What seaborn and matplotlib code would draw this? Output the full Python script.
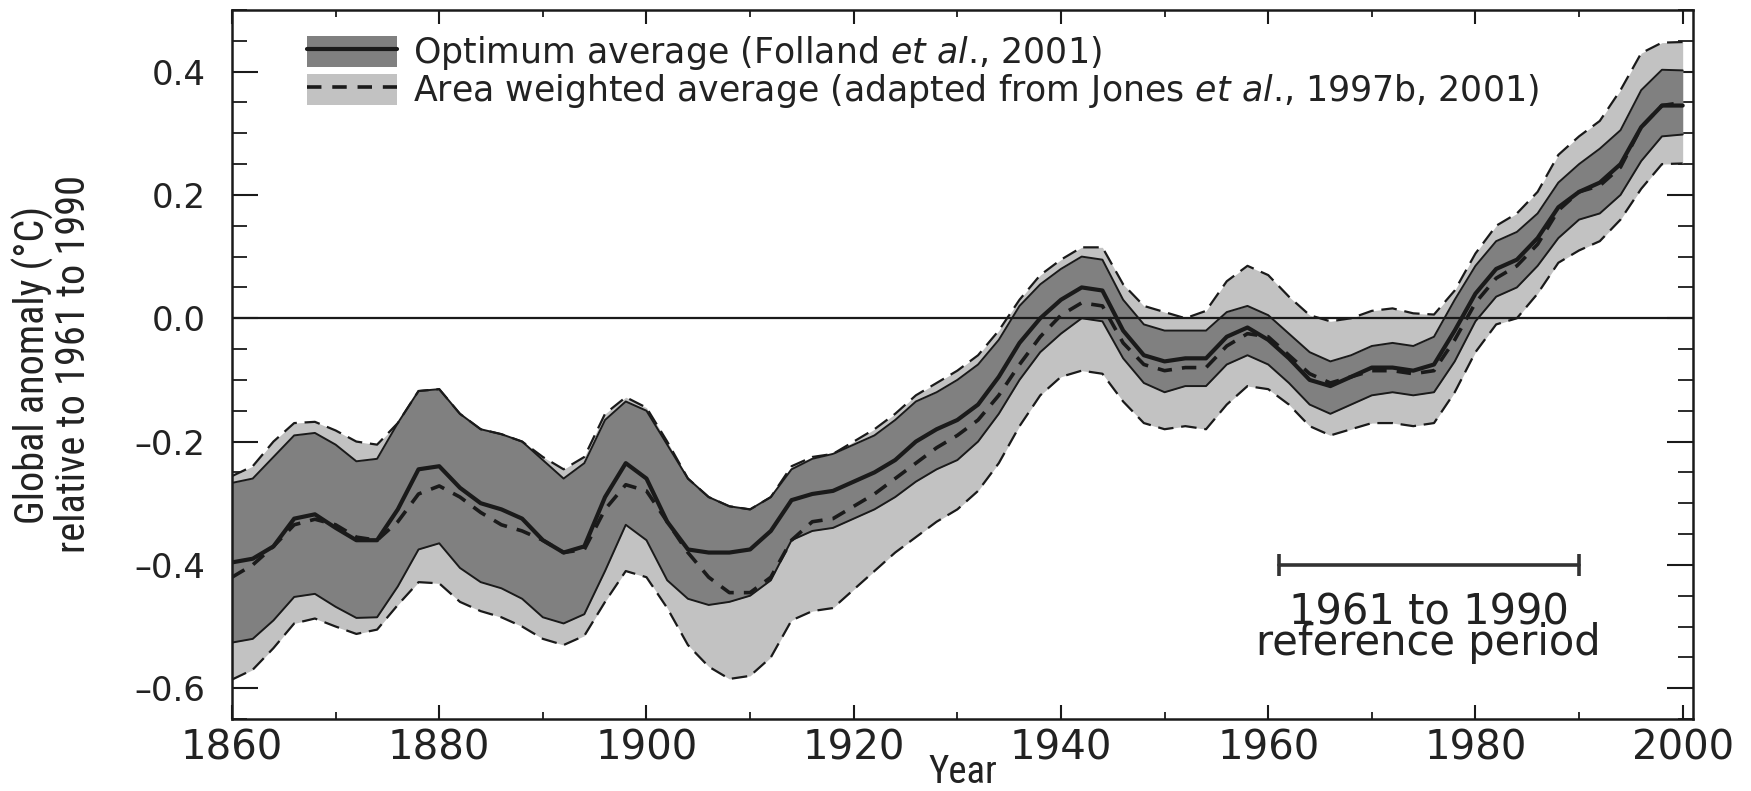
import numpy as np
import pandas as pd
import seaborn as sns
import matplotlib
matplotlib.use("Agg")
import matplotlib.pyplot as plt
from matplotlib import font_manager
from matplotlib.patches import Patch
from matplotlib.lines import Line2D
from matplotlib.ticker import MultipleLocator

# ---------------- data ----------------
years = list(range(1860, 2001, 2))

optimum_mean = [-0.396, -0.39, -0.37, -0.325, -0.318, -0.34, -0.36, -0.36, -0.31, -0.245,
                -0.24, -0.275, -0.30, -0.31, -0.325, -0.36, -0.38, -0.37, -0.29, -0.235,
                -0.26, -0.33, -0.375, -0.38, -0.38, -0.375, -0.345, -0.295, -0.285, -0.28,
                -0.265, -0.25, -0.23, -0.20, -0.18, -0.165, -0.14, -0.095, -0.04, 0.00,
                0.03, 0.05, 0.045, -0.02, -0.06, -0.07, -0.065, -0.065, -0.03, -0.015,
                -0.035, -0.065, -0.10, -0.11, -0.095, -0.08, -0.08, -0.085, -0.075, -0.02,
                0.04, 0.08, 0.095, 0.13, 0.18, 0.205, 0.22, 0.25, 0.31, 0.345, 0.345]

optimum_upper = [-0.267, -0.26, -0.225, -0.19, -0.186, -0.205, -0.232, -0.228, -0.17, -0.118,
                 -0.115, -0.155, -0.18, -0.188, -0.2, -0.23, -0.26, -0.235, -0.165, -0.135,
                 -0.15, -0.205, -0.26, -0.29, -0.305, -0.31, -0.29, -0.245, -0.228, -0.22,
                 -0.205, -0.19, -0.165, -0.135, -0.12, -0.10, -0.075, -0.035, 0.02, 0.055,
                 0.08, 0.10, 0.095, 0.03, -0.01, -0.02, -0.02, -0.02, 0.01, 0.02,
                 0.005, -0.025, -0.055, -0.07, -0.06, -0.045, -0.04, -0.045, -0.03, 0.03,
                 0.085, 0.125, 0.14, 0.17, 0.22, 0.25, 0.275, 0.305, 0.37, 0.403, 0.402]

optimum_lower = [-0.526, -0.52, -0.49, -0.452, -0.447, -0.468, -0.486, -0.485, -0.435, -0.375,
                 -0.365, -0.405, -0.428, -0.438, -0.455, -0.485, -0.495, -0.48, -0.41, -0.335,
                 -0.36, -0.425, -0.455, -0.465, -0.46, -0.45, -0.425, -0.36, -0.345, -0.34,
                 -0.325, -0.31, -0.29, -0.265, -0.245, -0.23, -0.2, -0.155, -0.1, -0.055,
                 -0.025, 0.0, -0.005, -0.065, -0.105, -0.12, -0.11, -0.11, -0.075, -0.06,
                 -0.075, -0.105, -0.14, -0.155, -0.14, -0.125, -0.12, -0.125, -0.12, -0.07,
                 -0.005, 0.035, 0.05, 0.085, 0.13, 0.16, 0.17, 0.2, 0.255, 0.295, 0.298]

area_mean = [-0.42, -0.40, -0.37, -0.335, -0.326, -0.335, -0.355, -0.36, -0.33, -0.285,
             -0.272, -0.29, -0.315, -0.335, -0.345, -0.36, -0.38, -0.375, -0.31, -0.27,
             -0.28, -0.33, -0.38, -0.42, -0.445, -0.445, -0.42, -0.36, -0.33, -0.325,
             -0.305, -0.285, -0.26, -0.235, -0.21, -0.19, -0.165, -0.125, -0.075, -0.03,
             0.005, 0.025, 0.02, -0.04, -0.075, -0.085, -0.08, -0.08, -0.045, -0.025,
             -0.03, -0.06, -0.09, -0.105, -0.095, -0.085, -0.085, -0.09, -0.085, -0.035,
             0.025, 0.065, 0.085, 0.12, 0.175, 0.205, 0.215, 0.245, 0.31, 0.345, 0.35]

area_upper = [-0.256, -0.24, -0.2, -0.17, -0.168, -0.182, -0.2, -0.205, -0.17, -0.118,
              -0.115, -0.155, -0.18, -0.188, -0.2, -0.225, -0.245, -0.225, -0.155, -0.128,
              -0.145, -0.2, -0.26, -0.29, -0.305, -0.31, -0.29, -0.24, -0.225, -0.22,
              -0.2, -0.18, -0.155, -0.125, -0.105, -0.085, -0.06, -0.02, 0.03, 0.07,
              0.095, 0.115, 0.115, 0.055, 0.02, 0.01, 0.0, 0.012, 0.06, 0.085,
              0.07, 0.035, 0.005, -0.005, 0.0, 0.012, 0.016, 0.008, 0.006, 0.045,
              0.105, 0.15, 0.17, 0.205, 0.265, 0.295, 0.32, 0.37, 0.43, 0.447, 0.448]

area_lower = [-0.586, -0.57, -0.535, -0.495, -0.487, -0.5, -0.512, -0.505, -0.465, -0.428,
              -0.43, -0.46, -0.475, -0.485, -0.5, -0.52, -0.53, -0.515, -0.46, -0.41,
              -0.42, -0.47, -0.53, -0.565, -0.585, -0.58, -0.55, -0.49, -0.475, -0.47,
              -0.44, -0.41, -0.38, -0.355, -0.33, -0.31, -0.28, -0.235, -0.175, -0.125,
              -0.095, -0.085, -0.09, -0.135, -0.17, -0.18, -0.175, -0.18, -0.14, -0.11,
              -0.115, -0.14, -0.175, -0.19, -0.18, -0.17, -0.17, -0.175, -0.17, -0.12,
              -0.055, -0.01, 0.0, 0.04, 0.09, 0.11, 0.125, 0.16, 0.21, 0.25, 0.251]

ref_period = [1961, 1990]
ref_level = -0.40
ref_text = "1961 to 1990\nreference period"

ytick_values = [-0.6, -0.4, -0.2, 0.0, 0.2, 0.4]
ytick_labels = ["\u20130.6", "\u20130.4", "\u20130.2", "0.0", "0.2", "0.4"]

legend_labels = [r"Optimum average (Folland $\it{et\ al}$., 2001)",
                 r"Area weighted average (adapted from Jones $\it{et\ al}$., 1997b, 2001)"]

# ---------------- style ----------------
sns.set_theme(style="ticks")
plt.rcParams["font.family"] = ["DejaVu Sans"]
plt.rcParams["mathtext.fontset"] = "custom"
plt.rcParams["mathtext.rm"] = "DejaVu Sans"
plt.rcParams["mathtext.it"] = "DejaVu Sans:italic"

def has_font(name):
    try:
        font_manager.findfont(name, fallback_to_default=False)
        return True
    except Exception:
        return False

narrow = ["Liberation Sans Narrow", "DejaVu Sans"] if has_font("Liberation Sans Narrow") \
    else ["Roboto Condensed", "Liberation Sans", "DejaVu Sans"]

DARK = "#808080"
LIGHT = "#c2c2c2"
INK = "#1a1a1a"
TXT = "#222222"

df = pd.DataFrame({"year": years, "opt": optimum_mean, "opt_hi": optimum_upper,
                   "opt_lo": optimum_lower, "area": area_mean, "area_hi": area_upper,
                   "area_lo": area_lower})

fig = plt.figure(figsize=(17.51, 7.91), dpi=100)
ax = fig.add_axes([0.1325, 0.0910, 0.8344, 0.8964])

# bands
ax.fill_between(df["year"], df["area_lo"], df["area_hi"], color=LIGHT, lw=0, zorder=1)
ax.fill_between(df["year"], df["opt_lo"], df["opt_hi"], color=DARK, lw=0, zorder=2)

for col in ["area_hi", "area_lo"]:
    sns.lineplot(data=df, x="year", y=col, ax=ax, color=INK, lw=1.6, zorder=3)
    ax.lines[-1].set_dashes((7, 3.5))
for col in ["opt_hi", "opt_lo"]:
    sns.lineplot(data=df, x="year", y=col, ax=ax, color=INK, lw=1.4, zorder=4)
sns.lineplot(data=df, x="year", y="area", ax=ax, color=INK, lw=2.6, zorder=5)
ax.lines[-1].set_dashes((4, 2.8))
sns.lineplot(data=df, x="year", y="opt", ax=ax, color=INK, lw=3.0, zorder=6)
for ln in ax.lines:
    ln.set_solid_joinstyle("round")
    ln.set_dash_joinstyle("round")

# zero line
ax.axhline(0.0, color=INK, lw=1.6, zorder=7)

# reference period bar
ax.plot(ref_period, [ref_level, ref_level], color="#333333", lw=2.6, zorder=8)
ax.plot(ref_period, [ref_level, ref_level], ls="none", marker="|", ms=16, mew=2.6,
        color="#333333", zorder=8)
xmid = (ref_period[0] + ref_period[1]) / 2
ax.text(xmid, -0.502, ref_text, ha="center", va="center", fontsize=30, color=TXT,
        linespacing=0.66, multialignment="center")

# axes
ax.set_xlim(1860, 2001)
ax.set_ylim(-0.65, 0.5)
ax.xaxis.set_major_locator(MultipleLocator(20))
ax.xaxis.set_minor_locator(MultipleLocator(10))
ax.yaxis.set_minor_locator(MultipleLocator(0.05))
ax.set_yticks(ytick_values)
ax.set_yticklabels(ytick_labels)
ax.tick_params(axis="both", which="both", direction="in", top=True, right=True,
               colors=INK, labelcolor=TXT)
ax.tick_params(axis="y", which="major", length=19, width=1.5, pad=19, labelsize=24.5)
ax.tick_params(axis="y", which="minor", length=10.5, width=1.3)
ax.tick_params(axis="x", which="major", length=10, width=1.5, pad=7, labelsize=29)
ax.tick_params(axis="x", which="minor", length=5, width=1.3)
for s in ax.spines.values():
    s.set_color(INK)
    s.set_linewidth(1.8)

ax.set_xlabel("Year", fontsize=28, family=narrow, color=TXT)
ax.xaxis.set_label_coords(0.5, -0.05)
ax.set_ylabel("Global anomaly (\u00b0C)\nrelative to 1961 to 1990", fontsize=29,
              family=narrow, color=TXT, linespacing=1.0)
ax.yaxis.set_label_coords(-0.095, 0.5)

# legend
h1 = (Patch(facecolor=DARK, edgecolor="none"), Line2D([], [], color=INK, lw=3.0))
h2 = (Patch(facecolor=LIGHT, edgecolor="none"),
      Line2D([], [], color=INK, lw=2.6, dashes=(4, 3)))
ax.legend([h1, h2], legend_labels, loc="upper left", bbox_to_anchor=(0.0513, 0.966),
          frameon=False, fontsize=25, handlelength=2.6, handleheight=1.0,
          labelspacing=0.0, handletextpad=0.46, borderpad=0.0, borderaxespad=0.0,
          labelcolor=TXT)

fig.savefig("out.png", dpi=100)
